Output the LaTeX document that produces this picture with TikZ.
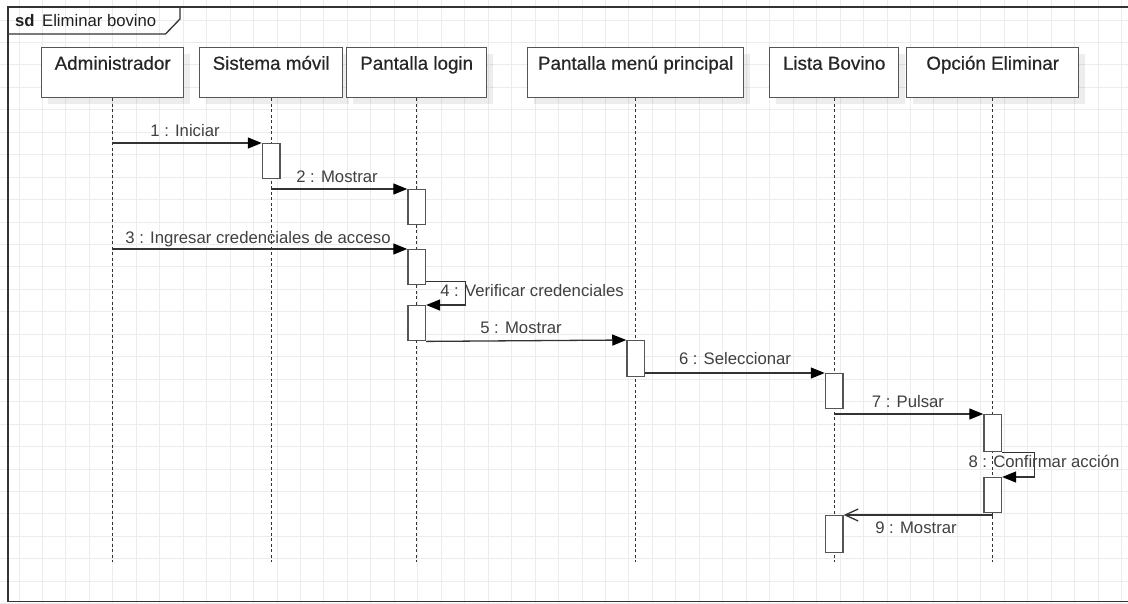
\documentclass[tikz,border=0pt]{standalone}
\usepackage{fontspec}
\setmainfont{Liberation Sans}
\newfontfamily\headfont[FakeBold=0.5]{Liberation Sans}
\usetikzlibrary{arrows.meta,shadows,calc}
\definecolor{gridc}{HTML}{ECECEC}
\definecolor{edge}{HTML}{555555}
\definecolor{wire}{HTML}{333333}
\definecolor{txt}{HTML}{404040}
\begin{document}
\begin{tikzpicture}[x=1pt,y=-1pt,
  gridline/.style={draw=gridc, line width=1pt},
  frame/.style={draw=wire, line width=1.3pt},
  hdr/.style={draw=edge, line width=1.4pt, fill=white, inner sep=0pt,
    minimum height=50pt, text height=14pt, text depth=20pt, anchor=north west,
    font=\headfont\fontsize{18.8}{22}\selectfont, text=black!85,
    drop shadow={shadow xshift=6pt, shadow yshift=-6pt, opacity=0.07, fill=black}},
  lifeline/.style={draw=black!80, line width=1.2pt, dash pattern=on 3pt off 2.5pt},
  act/.style={draw=edge, line width=1.4pt, fill=white, inner sep=0pt,
    minimum width=17.5pt, anchor=north},
  msg/.style={draw=wire, line width=1.3pt,
    -{Triangle[length=14pt,width=11pt,fill=black,color=black]}},
  reply/.style={draw=wire, line width=1.3pt, -{Straight Barb[length=13pt,width=12pt]}},
  lbl/.style={anchor=base, inner sep=0pt, text=txt, font=\fontsize{16.7}{20}\selectfont}
]
% canvas
\clip (0,0) rectangle (1128,603);
\fill[white] (0,0) rectangle (1128,603);

% background grid
\foreach \i in {0,...,48} \draw[gridline] ({19+23.46*\i},0) -- ({19+23.46*\i},603);
\foreach \j in {0,...,26} \draw[gridline] (0,{20+22.45*\j}) -- (1128,{20+22.45*\j});

% interaction frame
\draw[frame] (8,7) rectangle (1140,601.5);
\draw[frame] (8,34) -- (165.5,34) -- (180,19) -- (180,7);
\node[anchor=base west, inner sep=0pt, text=black!88, font=\fontsize{16.7}{20}\selectfont]
  (sd) at (15,26) {\textbf{sd}\, Eliminar bovino};

% participants
\node[hdr, minimum width=142pt] (adm) at (41,47) {Administrador};
\node[hdr, minimum width=143pt] (sis) at (199,47) {Sistema móvil};
\node[hdr, minimum width=140pt] (log) at (346,47) {Pantalla login};
\node[hdr, minimum width=216pt] (men) at (527,47) {Pantalla menú principal};
\node[hdr, minimum width=129pt] (lis) at (769,47) {Lista Bovino};
\node[hdr, minimum width=172pt] (opc) at (906,47) {Opción Eliminar};

% lifelines
\coordinate (bottom) at (0,562);
\foreach \p in {adm,sis,log,men,lis,opc}
  \draw[lifeline] (\p.south) -- (\p.south |- bottom);

% activation bars
\node[act, minimum height=35pt] (a1) at (sis.south |- 0,143) {};
\node[act, minimum height=35pt] (a2) at (log.south |- 0,189) {};
\node[act, minimum height=35pt] (a3) at (log.south |- 0,249) {};
\node[act, minimum height=35pt] (a4) at (log.south |- 0,305) {};
\node[act, minimum height=36pt] (a5) at (men.south |- 0,340) {};
\node[act, minimum height=35pt] (a6) at (lis.south |- 0,373) {};
\node[act, minimum height=37pt] (a7) at (opc.south |- 0,414) {};
\node[act, minimum height=35pt] (a8) at (opc.south |- 0,477) {};
\node[act, minimum height=37pt] (a9) at (lis.south |- 0,515) {};

% messages
\draw[msg] (adm.south |- a1.north) -- (a1.north west);
\node[lbl] (l1) at (185,136) {1 : Iniciar};

\draw[msg] (sis.south |- a2.north) -- (a2.north west);
\node[lbl] (l2) at (337,182) {2 : Mostrar};

\draw[msg] (adm.south |- a3.north) -- (a3.north west);
\node[lbl] (l3) at (258,243) {3 : Ingresar credenciales de acceso};

\draw[msg] ([yshift=4pt]a3.south east) -- ++(39,0) |- (a4.north east);
\node[lbl] (l4) at (532,296) {4 : Verificar credenciales};

\draw[msg] (a4.south east) -- (a5.north west);
\node[lbl] (l5) at (521,333) {5 : Mostrar};

\draw[msg] (a5.east |- a6.north) -- (a6.north west);
\node[lbl] (l6) at (735,364.5) {6 : Seleccionar};

\draw[msg] (lis.south |- a7.north) -- (a7.north west);
\node[lbl] (l7) at (908,407) {7 : Pulsar};

\draw[msg] (a7.south east) -- ++(32,0) |- (a8.north east);
\node[lbl] (l8) at (1044,467.5) {8 : Confirmar acción};

\draw[reply] (opc.south |- a9.north) -- (a9.north east);
\node[lbl] (l9) at (916,533) {9 : Mostrar};
\end{tikzpicture}
\end{document}
